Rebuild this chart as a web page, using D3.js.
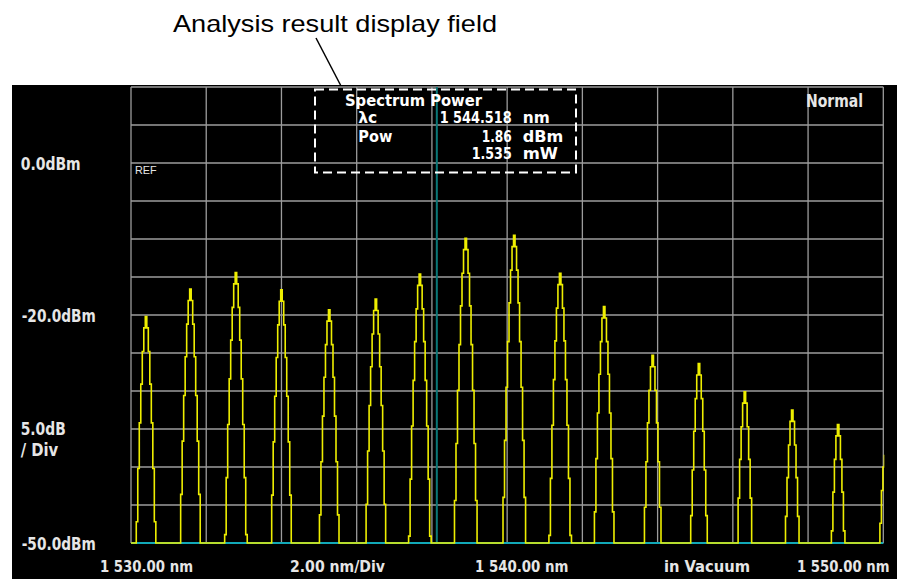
<!DOCTYPE html>
<html><head><meta charset="utf-8">
<script src="https://cdn.jsdelivr.net/npm/d3@7/dist/d3.min.js"></script>
<style>html,body{margin:0;padding:0;background:#fff;overflow:hidden;} svg{display:block;}</style>
</head><body><svg id="c" width="897" height="579"></svg>
<script>
// ---------------- data ----------------
const peakWavelengths = [1530.40, 1531.58, 1532.79, 1534.00, 1535.27, 1536.51, 1537.68, 1538.90, 1540.19,
                         1541.41, 1542.58, 1543.87, 1545.10, 1546.32, 1547.58, 1548.80, 1550.05];
const peakPowers = [-20.2, -16.6, -14.4, -16.7, -19.3, -17.9, -14.6, -9.9, -9.5,
                    -14.5, -18.9, -25.3, -26.4, -30.1, -32.5, -34.4, -38.5];
// measured single-channel line shape (offset from centre in nm, level relative to peak in dB)
const lineshapeOffsets = [0, 0.04, 0.08, 0.12, 0.16, 0.20, 0.24, 0.28, 0.32, 0.36, 0.40];
const lineshapeRelDb   = [0, -1.5, -4.6, -8.9, -14, -20, -27, -34.5, -42.5, -51, -61];
const markerWavelength = 1538.13;
const xDomain = [1530, 1550];
const yDomain = [-50, 10];
const xGridStep = 2;
const yGridStep = 5;
const yLabels = ["0.0dBm", "-20.0dBm", "-50.0dBm"];
const yLabelValues = [0, -20, -50];
const scaleLabels = ["5.0dB", "/ Div"];
const bottomLabels = ["1 530.00 nm", "2.00 nm/Div", "1 540.00 nm", "in Vacuum", "1 550.00 nm"];
const titleText = "Analysis result display field";
const modeLabel = "Normal";
const refLabel = "REF";
const analysisTitle = "Spectrum Power";
const analysisNames = ["λc", "Pow", ""];
const analysisValues = ["1 544.518", "1.86", "1.535"];
const analysisUnits = ["nm", "dBm", "mW"];

// ---------------- layout ----------------
const svg = d3.select("#c");
const P = {x0: 131, x1: 883.3, y0: 87, y1: 543};
const x = d3.scaleLinear().domain(xDomain).range([P.x0, P.x1]);
const y = d3.scaleLinear().domain(yDomain).range([P.y1, P.y0]);
const NF = "'Liberation Sans Narrow','Arial Narrow','DejaVu Sans Condensed','Liberation Sans',Arial,sans-serif";
const RF = "'Liberation Sans',Arial,Helvetica,sans-serif";

function txt(g, s, xx, yy, opt) {
  const t = g.append("text").attr("x", xx).attr("y", yy).text(s)
    .attr("font-family", opt.family || NF)
    .attr("font-weight", opt.weight || "bold")
    .attr("font-size", opt.size || 17)
    .attr("fill", opt.fill || "#e6e6e6");
  if (opt.len) t.attr("textLength", opt.len).attr("lengthAdjust", "spacingAndGlyphs");
  if (opt.anchor) t.attr("text-anchor", opt.anchor);
  return t;
}

// title + leader
txt(svg, titleText, 173, 31.5, {family: RF, weight: "normal", size: 24, fill: "#000", len: 324});
svg.append("line").attr("x1", 316).attr("y1", 38).attr("x2", 341).attr("y2", 86)
  .attr("stroke", "#000").attr("stroke-width", 1.5);

// instrument panel
svg.append("rect").attr("x", 12).attr("y", 85).attr("width", 885).attr("height", 494).attr("fill", "#000");

// grid
const grid = svg.append("g").attr("stroke", "#9c9c9c").attr("stroke-width", 1.3);
grid.selectAll("line.v").data(d3.range(xDomain[0], xDomain[1] + 0.001, xGridStep)).join("line")
  .attr("x1", d => x(d)).attr("x2", d => x(d)).attr("y1", P.y0).attr("y2", P.y1);
grid.selectAll("line.h").data(d3.range(yDomain[0], yDomain[1] + 0.001, yGridStep)).join("line")
  .attr("x1", P.x0).attr("x2", P.x1).attr("y1", d => y(d)).attr("y2", d => y(d));

// marker line
svg.append("line").attr("x1", x(markerWavelength)).attr("x2", x(markerWavelength))
  .attr("y1", P.y0).attr("y2", P.y1).attr("stroke", "#0b7878").attr("stroke-width", 2);

// clip
svg.append("clipPath").attr("id", "plotclip").append("rect")
  .attr("x", P.x0).attr("y", P.y0 - 2).attr("width", P.x1 - P.x0 + 1).attr("height", P.y1 - P.y0 + 4);

// cyan floor trace
svg.append("line").attr("x1", P.x0).attr("x2", P.x1).attr("y1", y(yDomain[0])).attr("y2", y(yDomain[0]))
  .attr("stroke", "#12a9b8").attr("stroke-width", 2);

// yellow spectrum
const pts = [[xDomain[0], yDomain[0]]];
peakWavelengths.forEach((w, i) => {
  const p = peakPowers[i];
  for (let j = lineshapeOffsets.length - 1; j > 0; j--)
    pts.push([w - lineshapeOffsets[j], Math.max(yDomain[0], p + lineshapeRelDb[j])]);
  pts.push([w, p]);
  for (let j = 1; j < lineshapeOffsets.length; j++)
    pts.push([w + lineshapeOffsets[j], Math.max(yDomain[0], p + lineshapeRelDb[j])]);
});
pts.push([xDomain[1] + 1, yDomain[0]]);
const line = d3.line().x(d => x(d[0])).y(d => y(d[1])).curve(d3.curveStep);
svg.append("path").attr("d", line(pts)).attr("fill", "none")
  .attr("stroke", "#eeee00").attr("stroke-width", 1.6).attr("clip-path", "url(#plotclip)");

// analysis box
svg.append("rect").attr("x", 315).attr("y", 89.5).attr("width", 261).attr("height", 83)
  .attr("fill", "none").attr("stroke", "#fff").attr("stroke-width", 2).attr("stroke-dasharray", "9,5");
const box = svg.append("g");
const BS = 15;
txt(box, analysisTitle, 345, 105.7, {fill: "#fff", len: 137, size: BS});
const rowY = [123.3, 141.7, 159];
const nameLen = [19, 34, 0];
const valRight = 511.7;
const valLen = [72, 30, 40];
const unitLen = [27, 40.6, 35.3];
analysisNames.forEach((s, i) => { if (s) txt(box, s, 358.3, rowY[i], {fill: "#fff", len: nameLen[i], size: BS}); });
analysisValues.forEach((s, i) => txt(box, s, valRight - valLen[i], rowY[i], {fill: "#fff", len: valLen[i], size: BS}));
analysisUnits.forEach((s, i) => txt(box, s, 522.7, rowY[i], {fill: "#fff", len: unitLen[i], size: BS}));

// labels
const lab = svg.append("g");
const yLabLen = [60, 74, 74];
const yLabX = [20.7, 21.7, 21.7];
yLabels.forEach((s, i) => txt(lab, s, yLabX[i], y(yLabelValues[i]) + 6.5, {len: yLabLen[i]}));
txt(lab, scaleLabels[0], 20.7, 435, {len: 45});
txt(lab, scaleLabels[1], 20.7, 456, {len: 37.6});
const bx = [100, 290, 475, 664, 797];
const bl = [93, 95, 93.3, 86, 92.5];
bottomLabels.forEach((s, i) => txt(lab, s, bx[i], 572, {len: bl[i], size: 16}));
txt(lab, modeLabel, 806, 106.7, {len: 57});
txt(lab, refLabel, 135, 173.5, {size: 10, weight: "normal", family: RF, len: 21.7});
</script></body></html>
